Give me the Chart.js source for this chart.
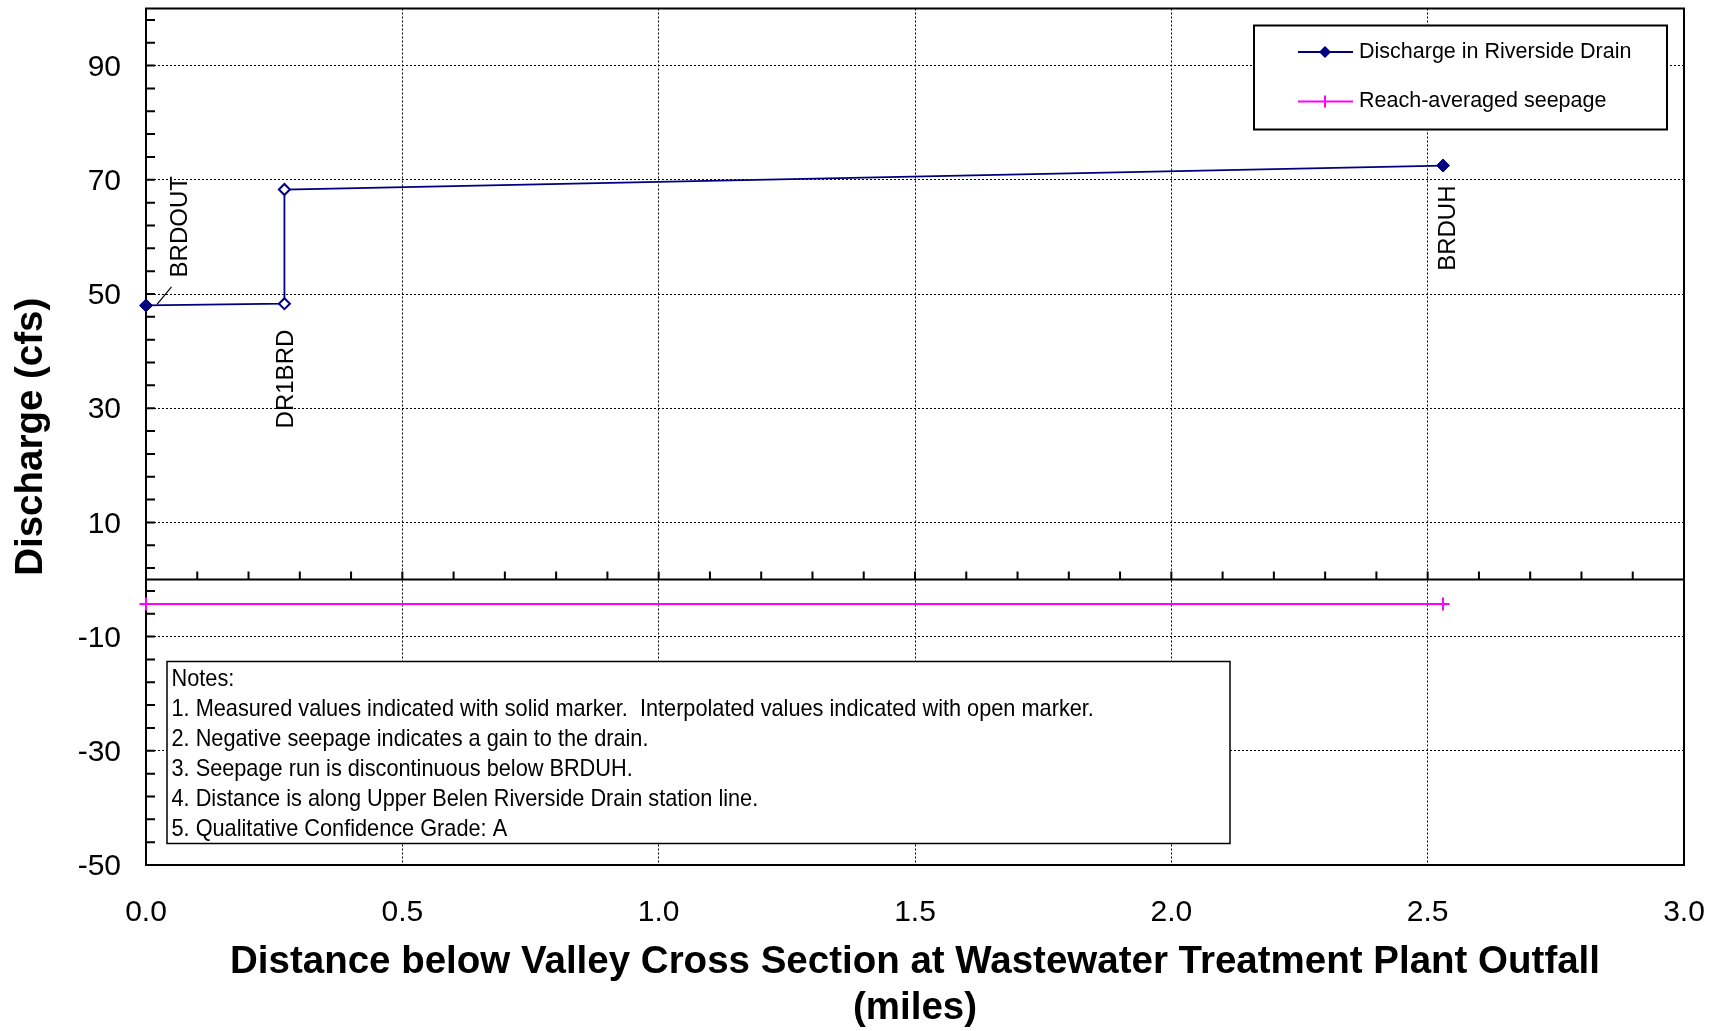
<!DOCTYPE html>
<html>
<head>
<meta charset="utf-8">
<title>Discharge in Riverside Drain</title>
<script src="https://cdn.jsdelivr.net/npm/chart.js@4.4.1/dist/chart.umd.min.js"></script>
<style>
  html, body { margin: 0; padding: 0; background: #fff; }
  #wrap { width: 1724px; height: 1031px; }
</style>
</head>
<body>
<div id="wrap"><canvas id="myChart" width="1724" height="1031" style="width:1724px;height:1031px"></canvas></div>
<script>
// distance along the drain (miles) and discharge (cfs)
var distance = [0, 0.27, 0.27, 2.53];
var discharge = [48.0, 48.3, 68.3, 72.5];
// true = measured (solid marker), false = interpolated (open marker)
var measured = [true, false, false, true];
var stationNames = ["BRDOUT", "DR1BRD", "", "BRDUH"];

// reach-averaged seepage (cfs)
var seepageDistance = [0, 2.53];
var seepage = [-4.3, -4.3];

// axis ticks
var xTickLabels = ["0.0", "0.5", "1.0", "1.5", "2.0", "2.5", "3.0"];
var yTickLabels = ["-50", "-30", "-10", "10", "30", "50", "70", "90"];
var xTickValues = [];
for (var i = 0; i <= 30; i++) { xTickValues.push(i / 10); }
var yTickValues = [];
for (var v = -50; v < 100; v += 4) { yTickValues.push(v); }

var notes = [
  "Notes:",
  "1. Measured values indicated with solid marker.  Interpolated values indicated with open marker.",
  "2. Negative seepage indicates a gain to the drain.",
  "3. Seepage run is discontinuous below BRDUH.",
  "4. Distance is along Upper Belen Riverside Drain station line.",
  "5. Qualitative Confidence Grade: A"
];

var navy = "#000080";
var magenta = "#ff00ff";
var fontName = "'Liberation Sans', Arial, sans-serif";

// draws frame, zero line and the small inside tick marks
var decorations = {
  id: "decorations",
  beforeDatasetsDraw: function (chart) {
    var ctx = chart.ctx;
    var area = chart.chartArea;
    var xs = chart.scales.x;
    var ys = chart.scales.y;
    ctx.save();
    ctx.strokeStyle = "#000";
    ctx.lineWidth = 2;
    ctx.strokeRect(area.left, area.top, area.right - area.left, area.bottom - area.top);

    var y0 = ys.getPixelForValue(0);
    ctx.beginPath();
    ctx.moveTo(area.left, y0);
    ctx.lineTo(area.right, y0);
    xTickValues.forEach(function (v) {
      var px = xs.getPixelForValue(v);
      ctx.moveTo(px, y0);
      ctx.lineTo(px, y0 - 8);
    });
    yTickValues.forEach(function (v) {
      var py = ys.getPixelForValue(v);
      ctx.moveTo(area.left, py);
      ctx.lineTo(area.left + 9, py);
    });
    ctx.stroke();
    ctx.restore();
  },
  afterDatasetsDraw: function (chart) {
    var ctx = chart.ctx;
    var area = chart.chartArea;
    var pts = chart.getDatasetMeta(0).data;
    ctx.save();

    // station labels, rotated
    ctx.fillStyle = "#000";
    ctx.font = "24px " + fontName;
    ctx.textBaseline = "middle";
    function vtext(text, x, y, align) {
      ctx.save();
      ctx.translate(x, y);
      ctx.rotate(-Math.PI / 2);
      ctx.textAlign = align;
      ctx.fillText(text, 0, 0);
      ctx.restore();
    }
    vtext(stationNames[0], pts[0].x + 34, pts[0].y - 28, "left");
    vtext(stationNames[1], pts[1].x + 2, pts[1].y + 26, "right");
    vtext(stationNames[3], pts[3].x + 5, pts[3].y + 20, "right");

    // leader line for BRDOUT
    ctx.strokeStyle = "#000";
    ctx.lineWidth = 1.2;
    ctx.beginPath();
    ctx.moveTo(pts[0].x + 11, pts[0].y - 1);
    ctx.lineTo(pts[0].x + 25.5, pts[0].y - 18.5);
    ctx.stroke();

    // legend box
    var lx = area.right - 430, ly = area.top + 17, lw = 413, lh = 104;
    ctx.fillStyle = "#fff";
    ctx.fillRect(lx, ly, lw, lh);
    ctx.lineWidth = 2;
    ctx.strokeStyle = "#000";
    ctx.strokeRect(lx, ly, lw, lh);

    var r1 = ly + 26.5, r2 = ly + 76;
    ctx.lineWidth = 1.8;
    ctx.strokeStyle = navy;
    ctx.beginPath();
    ctx.moveTo(lx + 44, r1);
    ctx.lineTo(lx + 99, r1);
    ctx.stroke();
    ctx.fillStyle = navy;
    ctx.beginPath();
    ctx.moveTo(lx + 71 - 6, r1);
    ctx.lineTo(lx + 71, r1 - 6);
    ctx.lineTo(lx + 71 + 6, r1);
    ctx.lineTo(lx + 71, r1 + 6);
    ctx.closePath();
    ctx.fill();

    ctx.strokeStyle = magenta;
    ctx.lineWidth = 2;
    ctx.beginPath();
    ctx.moveTo(lx + 44, r2);
    ctx.lineTo(lx + 99, r2);
    ctx.moveTo(lx + 71, r2 - 6);
    ctx.lineTo(lx + 71, r2 + 6);
    ctx.stroke();

    ctx.fillStyle = "#000";
    ctx.font = "21.5px " + fontName;
    ctx.textAlign = "left";
    ctx.fillText("Discharge in Riverside Drain", lx + 105, r1);
    ctx.fillText("Reach-averaged seepage", lx + 105, r2);

    // notes box
    var nx = area.left + 21, ny = area.top + 653, nw = 1063, nh = 182;
    ctx.fillStyle = "#fff";
    ctx.fillRect(nx, ny, nw, nh);
    ctx.strokeStyle = "#000";
    ctx.lineWidth = 1.5;
    ctx.strokeRect(nx, ny, nw, nh);
    ctx.fillStyle = "#000";
    ctx.font = "24px " + fontName;
    // the notes font is a condensed face in the original
    ctx.save();
    ctx.translate(nx + 4.5, ny);
    ctx.scale(0.905, 1);
    notes.forEach(function (line, k) {
      ctx.fillText(line, 0, 18 + k * 30);
    });
    ctx.restore();

    ctx.restore();
  }
};

var ctx = document.getElementById("myChart").getContext("2d");

var myChart = new Chart(ctx, {
  type: "scatter",
  data: {
    datasets: [
      {
        label: "Discharge in Riverside Drain",
        data: distance.map(function (d, k) { return { x: d, y: discharge[k] }; }),
        showLine: true,
        borderColor: navy,
        borderWidth: 1.8,
        pointStyle: "rectRot",
        pointRadius: measured.map(function (m) { return m ? 6.5 : 5.5; }),
        pointBorderWidth: measured.map(function (m) { return m ? 1 : 2; }),
        pointBorderColor: navy,
        pointBackgroundColor: measured.map(function (m) { return m ? navy : "#fff"; }),
        clip: false
      },
      {
        label: "Reach-averaged seepage",
        data: seepageDistance.map(function (d, k) { return { x: d, y: seepage[k] }; }),
        showLine: true,
        borderColor: magenta,
        borderWidth: 2,
        pointStyle: "cross",
        pointRadius: 6.5,
        pointBorderWidth: 2,
        pointBorderColor: magenta,
        clip: false
      }
    ]
  },
  options: {
    responsive: false,
    animation: false,
    events: [],
    layout: { padding: { top: 7, right: 40, left: 0, bottom: 0 } },
    plugins: {
      legend: { display: false },
      tooltip: { enabled: false }
    },
    scales: {
      x: {
        type: "linear",
        min: 0,
        max: 3,
        afterBuildTicks: function (scale) {
          scale.ticks = xTickValues.map(function (v) { return { value: v }; });
        },
        afterFit: function (scale) {
          scale.height = 166;
          scale.paddingLeft = 0;
          scale.paddingRight = 0;
        },
        ticks: {
          autoSkip: false,
          maxRotation: 0,
          padding: 30,
          color: "#000",
          font: { family: fontName, size: 30 },
          callback: function (value) {
            var s = Number(value).toFixed(1);
            return xTickLabels.indexOf(s) >= 0 ? s : "";
          }
        },
        grid: {
          drawTicks: false,
          lineWidth: 1,
          color: function (c) {
            if (!c.tick) return "rgba(0,0,0,0)";
            return xTickLabels.indexOf(Number(c.tick.value).toFixed(1)) >= 0 ? "#000" : "rgba(0,0,0,0)";
          }
        },
        border: { display: false, dash: [2, 2] },
        title: {
          display: true,
          text: ["Distance below Valley Cross Section at Wastewater Treatment Plant Outfall", "(miles)"],
          color: "#000",
          font: { family: fontName, size: 38.5, weight: "bold", lineHeight: "46px" },
          padding: { top: 0, bottom: 0 }
        }
      },
      y: {
        type: "linear",
        min: -50,
        max: 100,
        afterBuildTicks: function (scale) {
          scale.ticks = yTickValues.map(function (v) { return { value: v }; });
        },
        afterFit: function (scale) {
          scale.width = 146;
          scale.paddingTop = 0;
          scale.paddingBottom = 0;
        },
        ticks: {
          autoSkip: false,
          padding: 25,
          labelOffset: 2,
          color: "#000",
          font: { family: fontName, size: 30 },
          callback: function (value) {
            var s = String(value);
            return yTickLabels.indexOf(s) >= 0 ? s : "";
          }
        },
        grid: {
          drawTicks: false,
          lineWidth: 1,
          color: function (c) {
            if (!c.tick) return "rgba(0,0,0,0)";
            return yTickLabels.indexOf(String(c.tick.value)) >= 0 ? "#000" : "rgba(0,0,0,0)";
          }
        },
        border: { display: false, dash: [2, 2] },
        title: {
          display: true,
          text: "Discharge (cfs)",
          color: "#000",
          font: { family: fontName, size: 38.5, weight: "bold" },
          padding: { top: 8, bottom: 0 }
        }
      }
    }
  },
  plugins: [decorations]
});
</script>
</body>
</html>
